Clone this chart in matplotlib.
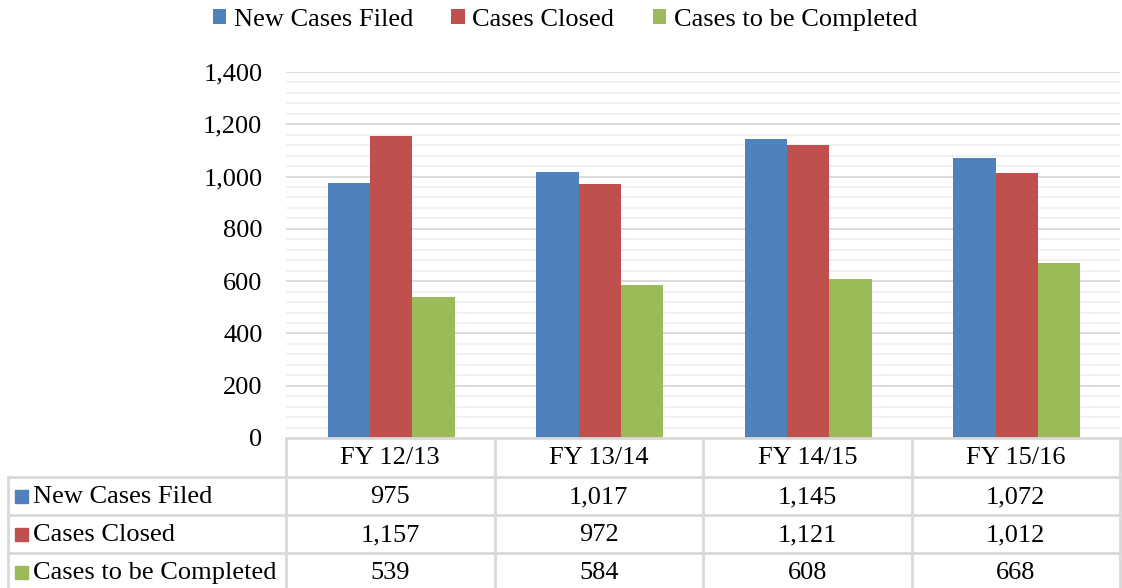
import numpy as np
import matplotlib
matplotlib.use("Agg")
import matplotlib.pyplot as plt
from matplotlib.patches import Patch, Rectangle
from matplotlib.lines import Line2D
from matplotlib.ticker import MultipleLocator, FuncFormatter

plt.rcParams['font.family'] = ['Liberation Serif', 'DejaVu Serif']

# data
categories = ['FY 12/13', 'FY 13/14', 'FY 14/15', 'FY 15/16']
series_names = ['New Cases Filed', 'Cases Closed', 'Cases to be Completed']
new_cases = [975, 1017, 1145, 1072]
cases_closed = [1157, 972, 1121, 1012]
to_complete = [539, 584, 608, 668]
series_values = [new_cases, cases_closed, to_complete]
series_colors = ['#4F81BD', '#C0504D', '#9BBB59']

W, H = 1122, 588
fig = plt.figure(figsize=(W / 100, H / 100), dpi=100)

# plot area (pixel coords of the reference)
px_l, px_r, px_t, px_b = 286, 1120, 72, 438
ax = fig.add_axes([px_l / W, 1 - px_b / H, (px_r - px_l) / W, (px_b - px_t) / H])

x = np.arange(len(categories))
bw = 0.203
for i, (name, vals, col) in enumerate(zip(series_names, series_values, series_colors)):
    ax.bar(x + (i - 1) * bw + 0.005, vals, width=bw, color=col, edgecolor='none', zorder=3, label=name)

fs = 19
ax.set_xlim(-0.5, len(categories) - 0.5)
ax.set_ylim(0, 1400)
ax.yaxis.set_major_locator(MultipleLocator(200))
ax.yaxis.set_minor_locator(MultipleLocator(40))
ax.yaxis.set_major_formatter(FuncFormatter(lambda v, p: f'{int(v):,}'))
ax.grid(axis='y', which='major', color='#D9D9D9', lw=1.3, zorder=0)
ax.grid(axis='y', which='minor', color='#F0F0F0', lw=1.3, zorder=0)
ax.tick_params(axis='y', which='both', length=0, labelsize=fs, pad=17)
ax.set_xticks([])
for s in ax.spines.values():
    s.set_visible(False)

# data table below the axes
tc = '#D9D9D9'
row_y = [438, 477, 515, 553, 591]
col_x = [px_l + (px_r - px_l) * k / len(categories) for k in range(len(categories) + 1)]
left_x = 8

def fx(p):
    return p / W

def fy(p):
    return 1 - p / H

# horizontal lines
fig.add_artist(Line2D([fx(px_l), fx(px_r)], [fy(row_y[0]), fy(row_y[0])], color=tc, lw=2))
for yy in row_y[1:]:
    fig.add_artist(Line2D([fx(left_x), fx(px_r)], [fy(yy), fy(yy)], color=tc, lw=2))
# vertical lines
for xx in col_x:
    fig.add_artist(Line2D([fx(xx), fx(xx)], [fy(row_y[0]), fy(row_y[-1])], color=tc, lw=2))
fig.add_artist(Line2D([fx(left_x), fx(left_x)], [fy(row_y[1]), fy(row_y[-1])], color=tc, lw=2))

for j, cat in enumerate(categories):
    cx = (col_x[j] + col_x[j + 1]) / 2
    fig.text(fx(cx), fy((row_y[0] + row_y[1]) / 2 + 1), cat, ha='center', va='center', fontsize=fs)
    for i, vals in enumerate(series_values):
        fig.text(fx(cx), fy((row_y[i + 1] + row_y[i + 2]) / 2 + 1), f'{vals[j]:,}',
                 ha='center', va='center', fontsize=fs)

for i, (name, col) in enumerate(zip(series_names, series_colors)):
    cy = (row_y[i + 1] + row_y[i + 2]) / 2
    fig.add_artist(Rectangle((fx(15), fy(cy + 7)), 13 / W, 13 / H, color=col, transform=fig.transFigure))
    fig.text(fx(33), fy(cy + 1), name, ha='left', va='center', fontsize=fs)

# legend on top
handles = [Patch(facecolor=c, edgecolor='none') for c in series_colors]
fig.legend(handles, series_names, loc='center', bbox_to_anchor=(565 / W, fy(20)), ncol=3,
           frameon=False, fontsize=fs, handlelength=0.5, handleheight=0.5,
           handletextpad=0.3, columnspacing=1.45)

fig.savefig('out.png', dpi=100)
